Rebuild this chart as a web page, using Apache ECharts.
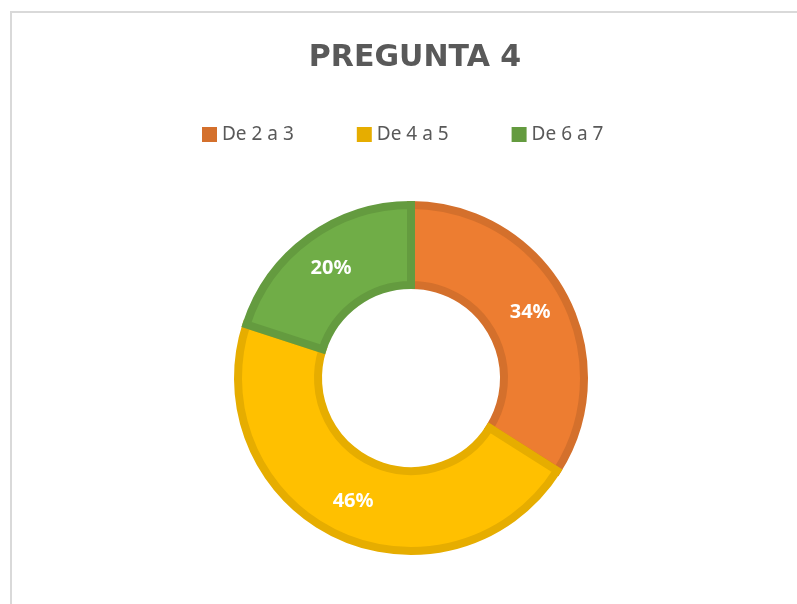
<!DOCTYPE html>
<html>
<head>
<meta charset="utf-8">
<style>
  html, body { margin: 0; padding: 0; background: #fff; }
  #frame { position: absolute; left: 10px; top: 11px; width: 800px; height: 600px;
           border-left: 2px solid #d9d9d9; border-top: 2px solid #d9d9d9; }
  #main { position: absolute; left: 0; top: 0; width: 797px; height: 604px; }
</style>
<script src="https://cdn.jsdelivr.net/npm/echarts@6/dist/echarts.min.js"></script>
</head>
<body>
<div id="frame"></div>
<div id="main"></div>
<script>
// datos de la pregunta 4
var categorias = ["De 2 a 3", "De 4 a 5", "De 6 a 7"];
var valores = [34, 46, 20];
var colores = ["#ED7D31", "#FFC000", "#70AD47"];
var bordes = ["#D4702C", "#E6AD00", "#649B3F"];

(function () {
  var myChart = echarts.init(document.getElementById("main"));
  var datos = categorias.map(function (c, i) {
    return {
      name: c,
      value: valores[i],
      itemStyle: { color: colores[i], borderColor: bordes[i] }
    };
  });
  // la leyenda usa el color del borde
  var leyenda = categorias.map(function (c, i) {
    return { name: c, itemStyle: { color: bordes[i], borderWidth: 0 } };
  });
  var option = {
    animation: false,
    title: {
      text: "PREGUNTA 4",
      left: 410,
      textAlign: "center",
      top: 38,
      textStyle: { fontFamily: "DejaVu Sans", fontSize: 30, fontWeight: "bold", color: "#595959" }
    },
    legend: {
      data: leyenda,
      top: 120,
      left: 197,
      itemWidth: 15,
      itemHeight: 15,
      itemGap: 63,
      icon: "rect",
      textStyle: { fontFamily: "Noto Sans", fontSize: 19, color: "#595959" }
    },
    series: [
      {
        name: "Pregunta 4",
        type: "pie",
        center: [411, 378],
        radius: [93, 173],
        startAngle: 90,
        clockwise: true,
        itemStyle: { borderWidth: 8, borderJoin: "miter" },
        label: {
          position: "inside",
          formatter: "{c}%",
          color: "#fff",
          fontFamily: "Noto Sans",
          fontWeight: "bold",
          fontSize: 20
        },
        labelLine: { show: false },
        emphasis: { disabled: true },
        data: datos
      }
    ]
  };
  myChart.setOption(option);
})();
</script>
</body>
</html>
